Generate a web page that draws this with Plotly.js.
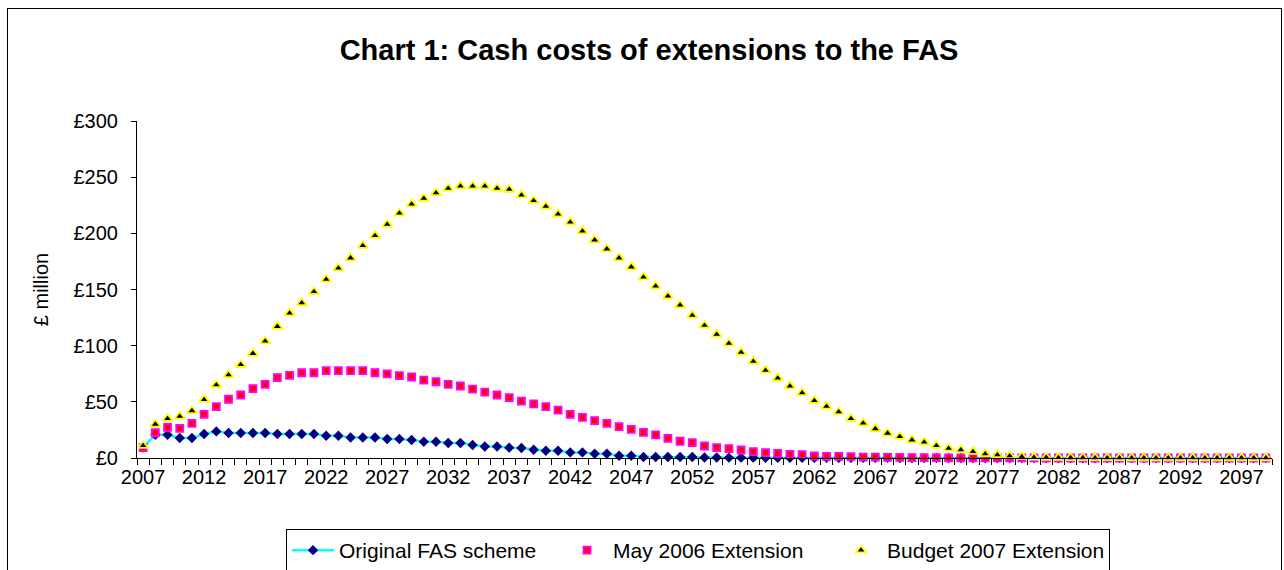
<!DOCTYPE html>
<html>
<head>
<meta charset="utf-8">
<script src="https://cdn.plot.ly/plotly-3.0.1.min.js"></script>
<style>
  html, body { margin: 0; padding: 0; background: #ffffff; width: 1284px; height: 570px; overflow: hidden; }
  #frame { position: absolute; left: 7px; top: 8px; width: 1275px; height: 600px; border: 1px solid #000; box-sizing: border-box; }
  #chart { position: absolute; left: 0; top: 0; width: 1284px; height: 570px; }
</style>
</head>
<body>
<div id="frame"></div>
<div id="chart"></div>
<script>
// Years 2007 .. 2099
const years = [
  2007,2008,2009,2010,2011,2012,2013,2014,2015,2016,
  2017,2018,2019,2020,2021,2022,2023,2024,2025,2026,
  2027,2028,2029,2030,2031,2032,2033,2034,2035,2036,
  2037,2038,2039,2040,2041,2042,2043,2044,2045,2046,
  2047,2048,2049,2050,2051,2052,2053,2054,2055,2056,
  2057,2058,2059,2060,2061,2062,2063,2064,2065,2066,
  2067,2068,2069,2070,2071,2072,2073,2074,2075,2076,
  2077,2078,2079,2080,2081,2082,2083,2084,2085,2086,
  2087,2088,2089,2090,2091,2092,2093,2094,2095,2096,
  2097,2098,2099
];

// £ million
const originalFAS = [
  9.4,20.7,20.7,17.8,17.8,21.3,23.7,22.2,22.2,22.2,
  22.2,21.3,21.3,21.3,21.3,19.8,19.8,18.3,18.3,18.3,
  16.9,16.9,16.0,14.5,14.5,13.3,13.3,11.6,10.3,10.3,
  9.2,8.9,7.4,6.5,6.5,5.0,5.0,3.8,3.8,2.0,
  2.0,0.9,0.9,0.9,0.9,0.9,0.4,0.4,0.3,0.3,
  0.3,0.2,0.2,0.2,0.2,0.1,0.1,0.1,0.1,0.1,
  0.1,0.1,0,0,0,0,0,0,0,0,
  0,0,0,0,0,0,0,0,0,0,
  0,0,0,0,0,0,0,0,0,0,
  0,0,0
];

const may2006 = [
  9.2,22.5,27.3,26.4,30.9,38.9,45.7,52.3,56.1,61.7,
  65.6,71.5,73.6,75.9,75.9,77.7,77.7,77.7,77.7,75.9,
  74.8,73.3,72.1,69.4,67.9,65.6,64.1,61.4,58.7,56.1,
  53.7,50.7,48.1,45.7,42.7,38.9,36.2,33.2,30.9,27.9,
  25.5,22.9,20.5,17.5,14.9,13.6,10.7,9.2,8.3,7.1,
  5.6,4.7,4.2,3.3,3.0,1.8,1.5,1.5,1.2,0.8,
  0.7,0.6,0.5,0.4,0.3,0.3,0.2,0.2,0.2,0.1,
  0.1,0.1,0.1,0.1,0,0,0,0,0,0,
  0,0,0,0,0,0,0,0,0,0,
  0,0,0
];

const budget2007 = [
  11,30,35,37,42,52,65,74,83,93,
  104,117,129,138,148,159,169,178,189,198,
  208,218,226,231,236,240,242,242,242,240,
  239,234,229,224,217,210,202,194,186,178,
  170,161,153,144,136,127,118,110,102,94,
  86,78,71,64,58,51,46,41,35,31,
  26,22,19,16,14,11,8.6,7.1,5.6,3.6,
  2.7,1.8,1.2,0.6,0.4,0.3,0.2,0.2,0.1,0.1,
  0.1,0,0,0,0,0,0,0,0,0,
  0,0,0
];

const seriesNames = ['Original FAS scheme', 'May 2006 Extension', 'Budget 2007 Extension'];
const labelYears = years.filter((y, i) => i % 5 === 0);
const boundaryTicks = years.map(y => y - 0.5).concat([years[years.length - 1] + 0.5]);

const traces = [
  {
    x: years, y: originalFAS, name: seriesNames[0], type: 'scatter', mode: 'lines+markers',
    line: { color: '#00FFFF', width: 2.5 },
    marker: { symbol: 'diamond', color: '#000080', size: 8, line: { width: 0 } },
    cliponaxis: false
  },
  {
    x: years, y: may2006, name: seriesNames[1], type: 'scatter', mode: 'markers',
    marker: { symbol: 'square', color: '#FF0000', size: 7, line: { color: '#FF00FF', width: 1.8 } },
    cliponaxis: false
  },
  {
    x: years, y: budget2007, name: seriesNames[2], type: 'scatter', mode: 'markers',
    marker: { symbol: 'triangle-up', color: '#000000', size: 9, line: { color: '#FFFF00', width: 1.8 } },
    cliponaxis: false
  }
];

const layout = {
  width: 1284, height: 570,
  paper_bgcolor: 'rgba(0,0,0,0)', plot_bgcolor: '#ffffff',
  font: { family: 'Liberation Sans, Arial, sans-serif', color: '#000000', size: 20 },
  margin: { l: 137, r: 12, t: 121, b: 112, pad: 0, autoexpand: false },
  title: {
    text: '<b>Chart 1: Cash costs of extensions to the FAS</b>',
    font: { size: 29, family: 'Liberation Sans, Arial, sans-serif', color: '#000' },
    x: 0.5055, xanchor: 'center', xref: 'container',
    y: 0.912, yanchor: 'middle', yref: 'container'
  },
  xaxis: {
    type: 'linear',
    range: [years[0] - 0.5, years[years.length - 1] + 0.5],
    tickmode: 'array', tickvals: labelYears, ticktext: labelYears.map(String),
    ticks: '', showgrid: false, zeroline: false,
    showline: true, linecolor: '#000', linewidth: 1,
    ticklabelstandoff: 1,
    tickfont: { size: 20 },
    minor: { tickmode: 'array', tickvals: boundaryTicks, ticks: 'outside', ticklen: 6, tickcolor: '#000', tickwidth: 1, showgrid: false }
  },
  yaxis: {
    range: [0, 300], tickmode: 'linear', tick0: 0, dtick: 50,
    tickprefix: '£', ticks: 'outside', ticklen: 5, tickcolor: '#000',
    showgrid: false, zeroline: false, showline: true, linecolor: '#000', linewidth: 1,
    ticklabelstandoff: 9,
    tickfont: { size: 20 },
    title: { text: '£ million', font: { size: 20 }, standoff: 19 }
  },
  showlegend: true,
  legend: {
    orientation: 'h', x: 0.1313, xanchor: 'left', y: -0.2107, yanchor: 'top',
    bordercolor: '#000', borderwidth: 1, bgcolor: '#ffffff',
    font: { size: 21 }, itemwidth: 42, entrywidth: 217, traceorder: 'normal'
  }
};

Plotly.newPlot('chart', traces, layout, { displayModeBar: false, staticPlot: true });
</script>
</body>
</html>
